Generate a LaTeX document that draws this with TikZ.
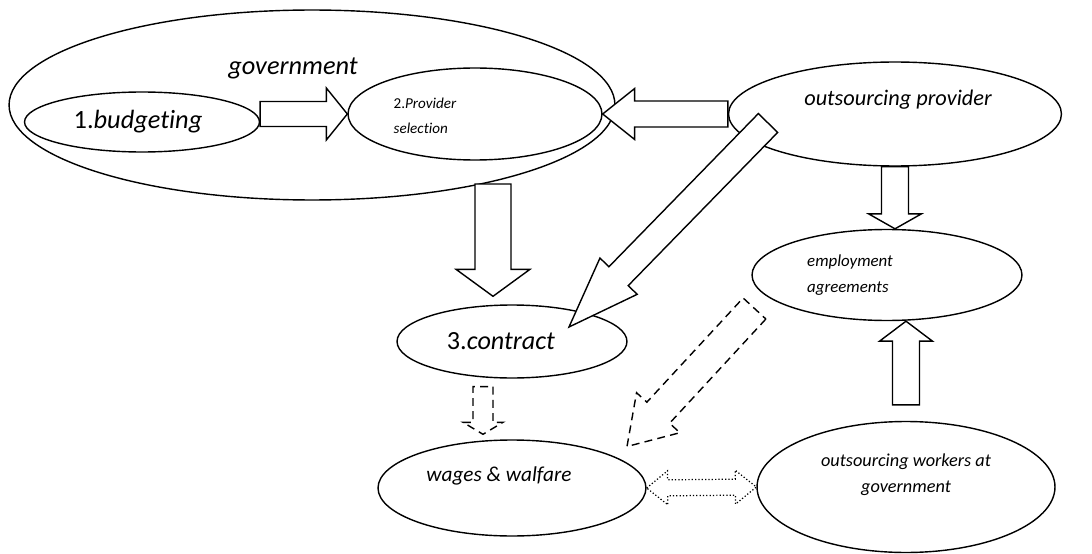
\documentclass[tikz,border=0pt]{standalone}
\usepackage{fontspec}
\setmainfont{Carlito}[Ligatures=NoCommon]
\usetikzlibrary{calc, shapes.geometric}
\tikzset{
    bubble/.style = {draw, ellipse, inner sep=0em, line width=0.8pt},
    blockarrow/.style = {draw, fill=white, line width=0.8pt, line join=miter},
    dashedarrow/.style = {blockarrow, dash pattern=on 4.5pt off 3pt},
    dottedarrow/.style = {blockarrow, line width=0.7pt, dash pattern=on 0.7pt off 1.2pt},
    every label/.style = {inner sep=0em}
}
% #2 tail, #3 tip, #4 half shaft, #5 half head, #6 head length
\newcommand{\blockarrow}[6][]{%
    \path #2 coordinate (ba-t) #3 coordinate (ba-h);
    \coordinate (ba-b) at ($(ba-h)!#6!(ba-t)$);
    \draw[blockarrow, #1] ($(ba-t)!#4!90:(ba-h)$) -- ($(ba-b)!#4!90:(ba-h)$)
        -- ($(ba-b)!#5!90:(ba-h)$) -- (ba-h) -- ($(ba-b)!#5!-90:(ba-h)$)
        -- ($(ba-b)!#4!-90:(ba-h)$) -- ($(ba-t)!#4!-90:(ba-h)$) -- cycle;
}
\newcommand{\dblblockarrow}[6][]{%
    \path #2 coordinate (da-a) #3 coordinate (da-b);
    \coordinate (da-p) at ($(da-a)!#6!(da-b)$);
    \coordinate (da-q) at ($(da-b)!#6!(da-a)$);
    \draw[blockarrow, #1] (da-a) -- ($(da-p)!#5!90:(da-b)$) -- ($(da-p)!#4!90:(da-b)$)
        -- ($(da-q)!#4!90:(da-b)$) -- ($(da-q)!#5!90:(da-b)$) -- (da-b)
        -- ($(da-q)!#5!-90:(da-b)$) -- ($(da-q)!#4!-90:(da-b)$)
        -- ($(da-p)!#4!-90:(da-b)$) -- ($(da-p)!#5!-90:(da-b)$) -- cycle;
}

\begin{document}
\begin{tikzpicture}[x=0.02cm, y=-0.02cm]
    \useasboundingbox (0,0) rectangle (1092,554);

    \node [bubble, name=gov, minimum width=12.12cm, minimum height=3.8cm,
        label={[font=\fontsize{15}{18}\selectfont\itshape, shift={(-19,-37)}]center:government}] at (312,105) {};
    \node [bubble, name=budget, minimum width=4.7cm, minimum height=1.2cm,
        label={[font=\fontsize{15}{18}\selectfont, shift={(-4,0)}]center:1.\textit{budgeting}}] at (142,122) {};
    \node [bubble, name=provsel, minimum width=5.08cm, minimum height=1.84cm,
        label={[font=\fontsize{8.6}{14.2}\selectfont, align=left, shift={(-50,2)}]center:2.\textit{Provider}\\\textit{selection}}] at (475,114) {};
    \node [bubble, name=outprov, minimum width=6.66cm, minimum height=2.08cm,
        label={[font=\fontsize{12.7}{15}\selectfont\itshape, shift={(3,-14)}]center:outsourcing provider}] at (895,114) {};
    \node [bubble, name=employ, minimum width=5.4cm, minimum height=1.82cm,
        label={[font=\fontsize{9.6}{14.7}\selectfont\itshape, align=left, shift={(-37,0)}]center:employment\\agreements}] at (887,275) {};
    \node [bubble, name=contract, minimum width=4.6cm, minimum height=1.46cm,
        label={[font=\fontsize{14.9}{18}\selectfont, shift={(-11,0)}]center:3.\textit{contract}}] at (512,341.5) {};
    \node [bubble, name=wages, minimum width=5.36cm, minimum height=1.92cm,
        label={[font=\fontsize{12.1}{15}\selectfont\itshape, shift={(-13,-12)}]center:wages \& walfare}] at (512,488) {};
    \node [bubble, name=workers, minimum width=5.96cm, minimum height=2.62cm,
        label={[font=\fontsize{10.4}{14.7}\selectfont\itshape, align=center, shift={(0,-12)}]center:outsourcing workers at\\government}] at (906,487) {};

    \coordinate (govout) at (493,184);
    \coordinate (provout) at (768,123);
    \coordinate (contractin) at (569,327);
    \coordinate (dashout) at (754.5,308.5);
    \coordinate (dashin) at (627,446.5);

    \blockarrow{(budget.east |- provsel.west)}{(provsel.west)}{0.25cm}{0.52cm}{0.42cm}
    \blockarrow{(outprov.west)}{(provsel.east)}{0.26cm}{0.51cm}{0.64cm}
    \blockarrow{(govout)}{($(govout |- contract.north)+(0,-8)$)}{0.36cm}{0.74cm}{0.54cm}
    \blockarrow{(provout)}{(contractin)}{0.27cm}{0.52cm}{1.42cm}
    \blockarrow{(outprov.south)}{(outprov.south |- employ.north)}{0.27cm}{0.53cm}{0.3cm}
    \blockarrow{($(workers.north)+(0,-16)$)}{(workers.north |- employ.south)}{0.27cm}{0.53cm}{0.4cm}
    \blockarrow[dashedarrow]{($(contract.south)+(-29,8)$)}{($(wages.north)+(-29,-5)$)}{0.2cm}{0.4cm}{0.24cm}
    \blockarrow[dashedarrow]{(dashout)}{(dashin)}{0.31cm}{0.59cm}{0.92cm}
    \dblblockarrow[dottedarrow]{(wages.east)}{(workers.west)}{0.16cm}{0.34cm}{0.42cm}
\end{tikzpicture}
\end{document}
